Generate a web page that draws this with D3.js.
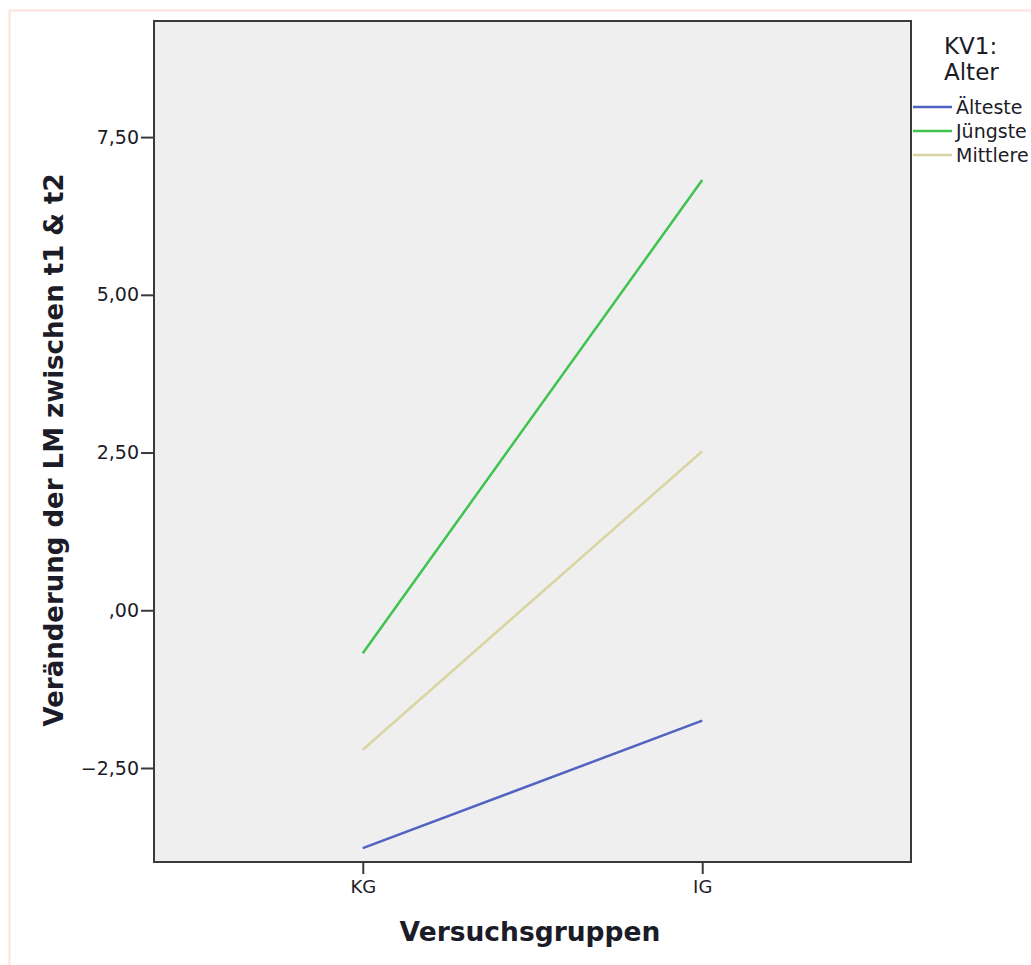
<!DOCTYPE html>
<html>
<head>
<meta charset="utf-8">
<script src="https://cdn.jsdelivr.net/npm/d3@7"></script>
<style>
  body { margin: 0; background: #fff; }
  svg text { font-family: "DejaVu Sans", sans-serif; fill: #1c1c28; }
</style>
</head>
<body>
<div id="chart"></div>
<script>
// data
const groups = ["KG", "IG"];
const seriesNames = ["Älteste", "Jüngste", "Mittlere"];
const aeltesteVals = [-3.77, -1.75];
const juengsteVals = [-0.68, 6.82];
const mittlereVals = [-2.21, 2.52];
const yTicks = [-2.5, 0, 2.5, 5, 7.5];
const colors = ["#4f63c0", "#3ec44e", "#d9d5a3"];

const W = 1031, H = 965;
const plot = {left: 154, top: 21, right: 911, bottom: 862};

const svg = d3.select("#chart").append("svg")
    .attr("width", W).attr("height", H);

// pinkish outer frame
svg.append("path")
    .attr("d", "M9.5," + H + " V10.5 H" + W)
    .attr("fill", "none")
    .attr("stroke", "#fde2da")
    .attr("stroke-width", 2);

const x = d3.scalePoint()
    .domain(groups)
    .range([plot.left, plot.right])
    .padding(0.615);

const y = d3.scaleLinear()
    .domain([-3.99, 9.34])
    .range([plot.bottom, plot.top]);

svg.append("rect")
    .attr("x", plot.left).attr("y", plot.top)
    .attr("width", plot.right - plot.left)
    .attr("height", plot.bottom - plot.top)
    .attr("fill", "#efefef")
    .attr("stroke", "#3a3a3a")
    .attr("stroke-width", 2);

const yAxis = svg.append("g")
    .attr("transform", "translate(" + plot.left + ",0)")
    .call(d3.axisLeft(y).tickValues(yTicks).tickSize(13).tickPadding(2)
        .tickFormat(d => d === 0 ? ",00" : d3.format(".2f")(d).replace(".", ",").replace("-", "–")));
yAxis.select(".domain").remove();
yAxis.selectAll("line").attr("stroke", "#3a3a3a").attr("stroke-width", 2);
yAxis.selectAll("text").attr("font-size", 19).attr("font-family", "DejaVu Sans").attr("fill", "#1c1c28");

const xAxis = svg.append("g")
    .attr("transform", "translate(0," + plot.bottom + ")")
    .call(d3.axisBottom(x).tickSize(12).tickPadding(6));
xAxis.select(".domain").remove();
xAxis.selectAll("line").attr("stroke", "#3a3a3a").attr("stroke-width", 2);
xAxis.selectAll("text").attr("font-size", 18).attr("font-family", "DejaVu Sans").attr("fill", "#1c1c28");

// lines
const series = [aeltesteVals, juengsteVals, mittlereVals];
const line = d3.line()
    .x((d, i) => x(groups[i]))
    .y(d => y(d));

series.forEach((vals, i) => {
    svg.append("path")
        .attr("d", line(vals))
        .attr("fill", "none")
        .attr("stroke", colors[i])
        .attr("stroke-width", 2.5);
});

// axis titles
svg.append("text")
    .attr("x", 530).attr("y", 941)
    .attr("text-anchor", "middle")
    .attr("font-size", 26.5).attr("font-weight", "bold")
    .text("Versuchsgruppen");

svg.append("text")
    .attr("transform", "translate(63,450) rotate(-90)")
    .attr("text-anchor", "middle")
    .attr("font-size", 26).attr("font-weight", "bold")
    .text("Veränderung der LM zwischen t1 & t2");

// legend
const leg = svg.append("g");
leg.append("text").attr("x", 944).attr("y", 54).attr("font-size", 23).text("KV1:");
leg.append("text").attr("x", 944).attr("y", 80).attr("font-size", 23).text("Alter");
seriesNames.forEach((name, i) => {
    const ly = 107 + i * 24;
    leg.append("line")
        .attr("x1", 913).attr("x2", 952)
        .attr("y1", ly).attr("y2", ly)
        .attr("stroke", colors[i]).attr("stroke-width", 2.5);
    leg.append("text")
        .attr("x", 956).attr("y", ly + 7)
        .attr("font-size", 19)
        .text(name);
});
</script>
</body>
</html>
